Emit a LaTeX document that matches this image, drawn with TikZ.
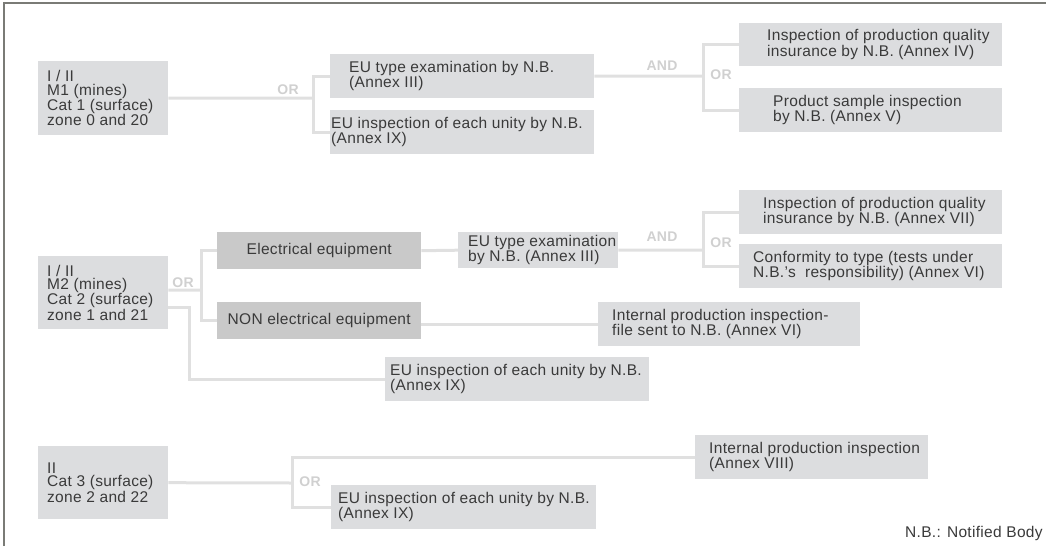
\documentclass[tikz,border=0pt]{standalone}
\usepackage{fontspec}
\setmainfont[LetterSpace=2]{Liberation Sans}
\usetikzlibrary{positioning}
\definecolor{boxgray}{HTML}{DCDDDF}
\definecolor{elecgray}{HTML}{C9C9C9}
\definecolor{linegray}{HTML}{E0E0E0}
\definecolor{labelgray}{HTML}{D0D0D0}
\definecolor{textgray}{HTML}{3A3A3A}
\definecolor{framegray}{HTML}{7A7B76}
\begin{document}
\begin{tikzpicture}[x=1pt,y=-1pt,
    box/.style={fill=boxgray,anchor=north west,inner sep=0pt},
    elec/.style={fill=elecgray,anchor=north west,inner sep=0pt,minimum width=204pt,minimum height=37pt,text=textgray,font=\fontsize{15.5}{13.5}\selectfont},
    btext/.style={inner sep=0pt,align=left,text=textgray,font=\fontsize{15.5}{13.5}\selectfont},
    link/.style={draw=linegray,line width=3pt},
    oplabel/.style={text=labelgray,font=\fontsize{14}{14}\bfseries\selectfont}]
    \useasboundingbox (0,0) rectangle (1046,546);
    \draw[framegray,line width=2.5pt] (4,546) -- (4,3) -- (1046,3);
    % category 1
    \node[box,minimum width=130pt,minimum height=74pt] (a1) at (38,61) {};
    \node[btext,right=9pt of a1.west] (a1t) {I / II\\M1 (mines)\\Cat 1 (surface)\\zone 0 and 20};
    \node[box,minimum width=264pt,minimum height=44pt] (b1) at (330,54) {};
    \node[btext,right=19pt of b1.west] (b1t) {EU type examination by N.B.\\(Annex III)};
    \node[box,minimum width=264pt,minimum height=44pt] (c1) at (330,110) {};
    \node[btext,right=1pt of c1.west] (c1t) {EU inspection of each unity by N.B.\\(Annex IX)};
    \node[box,minimum width=263pt,minimum height=43pt] (d1) at (739,23) {};
    \node[btext,right=28pt of d1.west] (d1t) {Inspection of production quality\\insurance by N.B. (Annex IV)};
    \node[box,minimum width=263pt,minimum height=44pt] (e1) at (739,88) {};
    \node[btext,right=34pt of e1.west] (e1t) {Product sample inspection\\by N.B. (Annex V)};
    \coordinate (j1) at (313,98);
    \coordinate (k1) at (703,76);
    \draw[link] (a1.east) -- (j1);
    \draw[link] (b1.west) -| (j1) |- (c1.west);
    \draw[link] (b1.east) -- (k1);
    \draw[link] (d1.west) -| (k1) |- (e1.west);
    \node[oplabel] (or1) at (288,90) {OR};
    \node[oplabel] (and1) at (662,66) {AND};
    \node[oplabel] (or2) at (721,75) {OR};
    % category 2
    \node[box,minimum width=130pt,minimum height=73pt] (a2) at (38,256) {};
    \node[btext,right=9pt of a2.west] (a2t) {I / II\\M2 (mines)\\Cat 2 (surface)\\zone 1 and 21};
    \node[elec] (f2) at (217,232) {Electrical equipment};
    \node[elec] (g2) at (217,302) {NON electrical equipment};
    \node[box,minimum width=160pt,minimum height=36pt] (h2) at (458,232) {};
    \node[btext,right=10pt of h2.west] (h2t) {EU type examination\\by N.B. (Annex III)};
    \node[box,minimum width=263pt,minimum height=44pt] (i2) at (739,190) {};
    \node[btext,right=24pt of i2.west] (i2t) {Inspection of production quality\\insurance by N.B. (Annex VII)};
    \node[box,minimum width=263pt,minimum height=44pt] (j2) at (739,244) {};
    \node[btext,right=14pt of j2.west] (j2t) {Conformity to type (tests under\\N.B.'s~ responsibility) (Annex VI)};
    \node[box,minimum width=262pt,minimum height=44pt] (k2) at (598,302) {};
    \node[btext,right=14pt of k2.west] (k2t) {Internal production inspection-\\file sent to N.B. (Annex VI)};
    \node[box,minimum width=264pt,minimum height=44pt] (l2) at (385,357) {};
    \node[btext,right=5pt of l2.west] (l2t) {EU inspection of each unity by N.B.\\(Annex IX)};
    \coordinate (j3) at (201,290);
    \coordinate (k3) at (703,250);
    \draw[link] ([yshift=2.5pt]a2.east) -- (j3);
    \draw[link] (f2.west) -| (j3) |- (g2.west);
    \draw[link] ([yshift=-14.5pt]a2.east) -- ++(21,0) |- (l2.west);
    \draw[link] (f2.east) -- (h2.west);
    \draw[link] (k2.west -| g2.east) -- (k2.west);
    \draw[link] (h2.east) -- (k3);
    \draw[link] (i2.west) -| (k3) |- (j2.west);
    \node[oplabel] (or3) at (183,283) {OR};
    \node[oplabel] (and2) at (662,237) {AND};
    \node[oplabel] (or4) at (721,243) {OR};
    % category 3
    \node[box,minimum width=130pt,minimum height=73pt] (a3) at (38,446) {};
    \node[btext,right=9pt of a3.west] (a3t) {II\\Cat 3 (surface)\\zone 2 and 22};
    \node[box,minimum width=233pt,minimum height=44pt] (m3) at (695,435) {};
    \node[btext,right=14pt of m3.west] (m3t) {Internal production inspection\\(Annex VIII)};
    \node[box,minimum width=265pt,minimum height=44pt] (n3) at (331,485) {};
    \node[btext,right=7pt of n3.west] (n3t) {EU inspection of each unity by N.B.\\(Annex IX)};
    \coordinate (j5) at (292,483);
    \draw[link] (a3.east) -- (j5);
    \draw[link] (m3.west) -| (j5) |- (n3.west);
    \node[oplabel] (or5) at (310,482) {OR};
    \node[btext,anchor=base west] (note) at (905,537) {N.B.: Notified Body};
\end{tikzpicture}
\end{document}
